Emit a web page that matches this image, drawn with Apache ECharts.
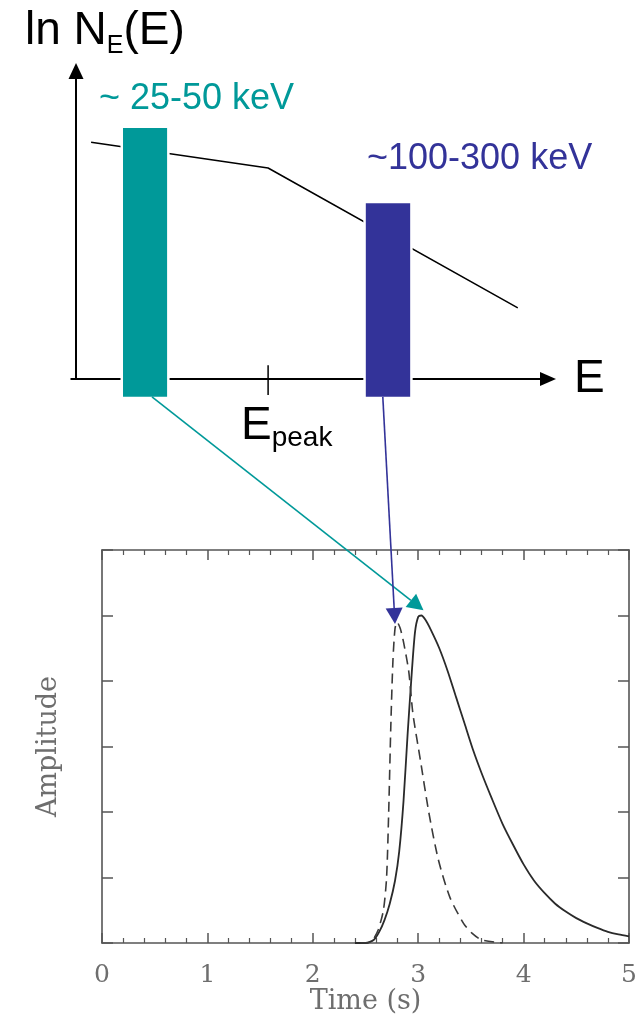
<!DOCTYPE html>
<html><head><meta charset="utf-8">
<script src="https://cdn.jsdelivr.net/npm/echarts@6/dist/echarts.min.js"></script>
<style>html,body{margin:0;padding:0;background:#fff}#c{width:642px;height:1023px}</style>
</head><body><div id="c"></div>
<script>
// ---- top panel: schematic spectrum (arbitrary units) ----
const bandLabels = ['~ 25-50 keV', '~100-300 keV'];
const bandColors = ['#009999', '#333399'];
const bandStart = [9.96, 61.4];
const bandEnd = [19.3, 70.8];
const bandTop = [81.5, 57.1];
const bandBottom = -5.8;
const specE = [3.2, 40.7, 93.6];
const specN = [76.9, 68.5, 23.1];
const ePeak = 40.7;
const ePeakTick = [4.5, -5.2];

// ---- bottom panel: pulse profiles ----
const timeTicks = [0, 1, 2, 3, 4, 5];
const timeSolid = [2.4, 2.5, 2.58, 2.63, 2.68, 2.73, 2.78, 2.82, 2.86, 2.9, 2.94, 2.97, 3.0, 3.03, 3.07, 3.12, 3.2, 3.28, 3.36, 3.44, 3.52, 3.6, 3.7, 3.8, 3.9, 4.0, 4.1, 4.2, 4.3, 4.4, 4.5, 4.6, 4.7, 4.8, 4.9, 5.0];
const ampSolid  = [0, 0, 0.05, 0.17, 0.35, 0.6, 0.95, 1.4, 2.15, 3.2, 4.15, 4.75, 4.98, 5.0, 4.93, 4.78, 4.5, 4.15, 3.75, 3.35, 2.95, 2.6, 2.2, 1.82, 1.5, 1.2, 0.95, 0.76, 0.6, 0.48, 0.38, 0.3, 0.23, 0.17, 0.13, 0.1];
const timeDashed = [2.45, 2.52, 2.57, 2.62, 2.67, 2.70, 2.72, 2.74, 2.76, 2.78, 2.80, 2.83, 2.86, 2.91, 2.95, 3.02, 3.10, 3.19, 3.30, 3.43, 3.51, 3.6, 3.8];
const ampDashed  = [0, 0, 0.05, 0.2, 0.5, 1.0, 2.0, 3.3, 4.3, 4.8, 4.9, 4.8, 4.6, 4.15, 3.5, 2.8, 2.0, 1.28, 0.7, 0.3, 0.15, 0.05, 0];

// arrows: from band bottom (top panel units) to pulse peak (time, amplitude)
const arrowFrom = [[16.1, -5.8], [65.0, -5.8]];
const arrowTo = [[3.05, 5.08], [2.78, 4.87]];

const F = 'Liberation Sans, Arial, sans-serif';
const S = 'DejaVu Serif, serif';
const frame = '#555';
const grey = '#6e6e6e';

const chart = echarts.init(document.getElementById('c'), null, {renderer: 'canvas'});

function frameAxis(extra) {
  return Object.assign({
    gridIndex: 1, type: 'value',
    axisLine: {show: true, onZero: false, lineStyle: {color: frame, width: 1.6}},
    axisTick: {show: true, inside: true, length: 10, lineStyle: {color: frame, width: 1.5}},
    axisLabel: {show: false},
    splitLine: {show: false}
  }, extra);
}

const option = {
  animation: false,
  backgroundColor: '#fff',
  title: [
    {text: '{a|ln N}{s|E}{a|(E)}', left: 25, top: 3, padding: 0,
     textStyle: {rich: {
       a: {fontSize: 46, lineHeight: 56, fontFamily: F, color: '#000', fontWeight: 'normal'},
       s: {fontSize: 25, lineHeight: 23, verticalAlign: 'bottom', fontFamily: F, color: '#000', fontWeight: 'normal'}
     }}},
    {text: bandLabels[0], left: 99, top: 81, padding: 0,
     textStyle: {fontSize: 36, lineHeight: 36, fontFamily: F, color: bandColors[0], fontWeight: 'normal'}},
    {text: bandLabels[1], left: 367, top: 141, padding: 0,
     textStyle: {fontSize: 36, lineHeight: 36, fontFamily: F, color: bandColors[1], fontWeight: 'normal'}},
    {text: '{e|E}{p|peak}', left: 241, top: 400, padding: 0,
     textStyle: {rich: {
       e: {fontSize: 46, lineHeight: 52, fontFamily: F, color: '#000', fontWeight: 'normal'},
       p: {fontSize: 28, lineHeight: 28, verticalAlign: 'bottom', fontFamily: F, color: '#000', fontWeight: 'normal'}
     }}}
  ],
  grid: [
    {left: 71.28, top: 71, width: 476.72, height: 308},
    {left: 102, top: 550, width: 527, height: 393}
  ],
  xAxis: [
    {gridIndex: 0, type: 'value', min: -1, max: 100,
     axisLine: {show: true, symbol: ['none', 'triangle'], symbolSize: [14, 16], lineStyle: {color: '#000', width: 2}},
     axisTick: {show: false}, axisLabel: {show: false}, splitLine: {show: false},
     name: 'E', nameLocation: 'end', nameGap: 26,
     nameTextStyle: {fontSize: 46, fontFamily: F, color: '#000'}},
    frameAxis({min: 0, max: 5, interval: 1, position: 'bottom',
      minorTick: {show: true, splitNumber: 5, length: 5, lineStyle: {color: frame, width: 1.2}},
      axisLabel: {show: true, fontFamily: S, fontSize: 25, color: grey, margin: 20},
      name: 'Time (s)', nameLocation: 'middle', nameGap: 45,
      nameTextStyle: {fontFamily: S, fontSize: 27, color: grey}}),
    frameAxis({min: 0, max: 5, interval: 1, position: 'top',
      minorTick: {show: true, splitNumber: 5, length: 5, lineStyle: {color: frame, width: 1.2}}})
  ],
  yAxis: [
    {gridIndex: 0, type: 'value', min: 0, max: 100,
     axisLine: {show: true, onZero: true, symbol: ['none', 'triangle'], symbolSize: [15, 16], lineStyle: {color: '#000', width: 2}},
     axisTick: {show: false}, axisLabel: {show: false}, splitLine: {show: false}},
    frameAxis({min: 0, max: 6, interval: 1, position: 'left', axisTick: {show: true, inside: true, length: 11, lineStyle: {color: frame, width: 1.5}},
      name: 'Amplitude', nameLocation: 'middle', nameGap: 40,
      nameTextStyle: {fontFamily: S, fontSize: 27, color: grey}}),
    frameAxis({min: 0, max: 6, interval: 1, position: 'right', axisTick: {show: true, inside: true, length: 11, lineStyle: {color: frame, width: 1.5}}})
  ],
  series: [
    {type: 'line', xAxisIndex: 0, yAxisIndex: 0, symbol: 'none', silent: true, z: 2,
     data: specE.map((e, i) => [e, specN[i]]),
     lineStyle: {color: '#000', width: 1.5}},
    {type: 'line', xAxisIndex: 0, yAxisIndex: 0, symbol: 'none', silent: true, clip: false, z: 2,
     data: ePeakTick.map(v => [ePeak, v]),
     lineStyle: {color: '#000', width: 1.5}},
    {type: 'custom', xAxisIndex: 0, yAxisIndex: 0, clip: false, z: 5, silent: true,
     encode: {x: [0, 1], y: [2, 3]},
     data: bandStart.map((s, i) => [s, bandEnd[i], bandTop[i], bandBottom]),
     renderItem: function (params, api) {
       const i = params.dataIndex;
       const p0 = api.coord([api.value(0), api.value(2)]);
       const p1 = api.coord([api.value(1), api.value(3)]);
       const x = p0[0], y = p0[1], w = p1[0] - p0[0], h = p1[1] - p0[1];
       return {type: 'group', children: [
         {type: 'rect', shape: {x: x - 2.5, y: y - 2.5, width: w + 5, height: h + 5}, style: {fill: '#fff'}},
         {type: 'rect', shape: {x: x, y: y, width: w, height: h}, style: {fill: bandColors[i]}}
       ]};
     }},
    {type: 'line', xAxisIndex: 1, yAxisIndex: 1, symbol: 'none', smooth: 0.25, silent: true,
     data: timeSolid.map((t, i) => [t, ampSolid[i]]),
     lineStyle: {color: '#2a2a2a', width: 1.8}},
    {type: 'line', xAxisIndex: 1, yAxisIndex: 1, symbol: 'none', smooth: 0.25, silent: true,
     data: timeDashed.map((t, i) => [t, ampDashed[i]]),
     lineStyle: {color: '#3a3a3a', width: 1.6, type: [10, 6]}}
  ]
};
chart.setOption(option);

const g = [];
for (let i = 0; i < arrowFrom.length; i++) {
  const a = chart.convertToPixel({gridIndex: 0}, arrowFrom[i]);
  const b = chart.convertToPixel({gridIndex: 1}, arrowTo[i]);
  const dx = b[0] - a[0], dy = b[1] - a[1];
  const len = Math.sqrt(dx * dx + dy * dy);
  const ux = dx / len, uy = dy / len;
  const L = 16, W = 8.5;
  const bx = b[0] - ux * L, by = b[1] - uy * L;
  g.push({type: 'line', z: 100, silent: true,
    shape: {x1: a[0], y1: a[1], x2: bx, y2: by},
    style: {stroke: bandColors[i], lineWidth: 1.6}});
  g.push({type: 'polygon', z: 100, silent: true,
    shape: {points: [[b[0], b[1]], [bx - uy * W, by + ux * W], [bx + uy * W, by - ux * W]]},
    style: {fill: bandColors[i]}});
}
chart.setOption({graphic: g});
</script>
</body></html>
